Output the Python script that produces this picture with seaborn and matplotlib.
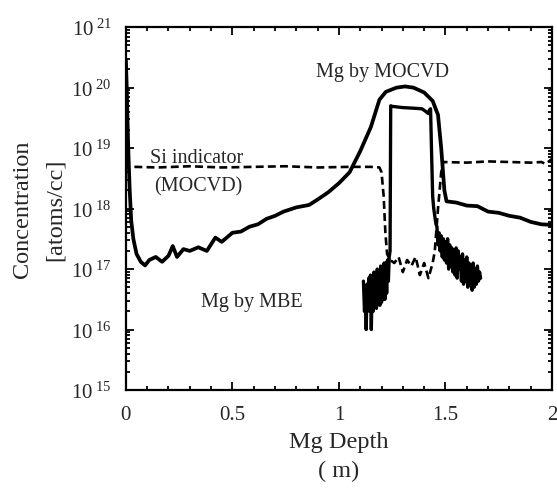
import numpy as np
import pandas as pd
import matplotlib
matplotlib.use("Agg")
import matplotlib.pyplot as plt
import matplotlib.ticker as mticker
import seaborn as sns

# Mg by MOCVD (solid, thick) - depth in um, log10 of concentration
mocvd_x = [0.000, 0.004, 0.008, 0.012, 0.018, 0.025, 0.035, 0.050, 0.070, 0.090,
           0.110, 0.140, 0.170, 0.200, 0.220, 0.240, 0.270, 0.300, 0.340, 0.380,
           0.420, 0.450, 0.500, 0.540, 0.580, 0.620, 0.660, 0.700, 0.740, 0.800,
           0.860, 0.900, 0.950, 1.000, 1.050, 1.100, 1.150, 1.190, 1.220, 1.270,
           1.310, 1.350, 1.400, 1.440, 1.465, 1.480, 1.495, 1.505, 1.550, 1.600,
           1.650, 1.700, 1.750, 1.800, 1.850, 1.900, 1.950, 2.000]
mocvd_log = [20.47, 20.00, 19.40, 18.90, 18.30, 17.80, 17.50, 17.25, 17.12, 17.06,
             17.15, 17.20, 17.12, 17.22, 17.38, 17.20, 17.33, 17.30, 17.36, 17.30,
             17.52, 17.45, 17.60, 17.62, 17.70, 17.74, 17.83, 17.88, 17.95, 18.02,
             18.06, 18.15, 18.27, 18.42, 18.60, 18.95, 19.35, 19.80, 19.93, 20.00,
             20.02, 20.00, 19.92, 19.78, 19.55, 19.00, 18.30, 18.12, 18.10, 18.05,
             18.04, 17.95, 17.93, 17.88, 17.85, 17.78, 17.74, 17.73]

# Si indicator (MOCVD) (dashed)
si_x = [0.040, 0.150, 0.300, 0.450, 0.600, 0.750, 0.900, 1.050, 1.150, 1.190,
        1.200, 1.210, 1.218, 1.226, 1.240, 1.260, 1.280, 1.300, 1.320, 1.340,
        1.360, 1.380, 1.400, 1.420, 1.440, 1.450, 1.465, 1.480, 1.490, 1.600,
        1.700, 1.800, 1.900, 1.950, 1.970, 2.000]
si_log = [18.69, 18.68, 18.70, 18.68, 18.69, 18.70, 18.68, 18.69, 18.69, 18.68,
          18.60, 18.20, 17.60, 17.25, 17.15, 17.10, 17.20, 16.95, 17.15, 17.05,
          17.20, 16.90, 17.10, 16.85, 17.10, 17.30, 18.00, 18.60, 18.77, 18.76,
          18.78, 18.77, 18.76, 18.77, 18.74, 18.82]

# Mg by MBE (solid)
mbe_x = [1.115, 1.120, 1.124, 1.128, 1.132, 1.136, 1.140, 1.144, 1.148, 1.152,
         1.156, 1.160, 1.164, 1.168, 1.172, 1.176, 1.180, 1.184, 1.188, 1.192,
         1.196, 1.200, 1.204, 1.208, 1.212, 1.216, 1.220, 1.224, 1.228, 1.232,
         1.236, 1.240, 1.243, 1.250, 1.300, 1.350, 1.390, 1.410, 1.420, 1.425,
         1.430, 1.435, 1.440, 1.445, 1.455,
         1.460, 1.465, 1.470, 1.475, 1.480, 1.485, 1.490, 1.495, 1.500, 1.505,
         1.510, 1.515, 1.520, 1.525, 1.530, 1.535, 1.540, 1.545, 1.550, 1.555,
         1.560, 1.565, 1.570, 1.575, 1.580, 1.585, 1.590, 1.595, 1.600, 1.605,
         1.610, 1.615, 1.620, 1.625, 1.630, 1.635, 1.640, 1.645, 1.650, 1.655,
         1.660, 1.665]
mbe_log = [16.80, 16.30, 16.70, 16.00, 16.75, 16.40, 16.85, 16.30, 16.90, 16.00,
           16.80, 16.30, 16.95, 16.40, 16.90, 16.35, 17.00, 16.50, 16.95, 16.40,
           17.05, 16.45, 17.00, 16.50, 17.10, 16.50, 17.10, 16.60, 17.15, 16.80,
           17.20, 17.30, 19.70, 19.69, 19.67, 19.66, 19.65, 19.60, 19.57, 19.63,
           19.65, 18.90, 18.20, 18.00, 17.75,
           17.70, 17.40, 17.60, 17.30, 17.55, 17.20, 17.50, 17.15, 17.45, 17.10,
           17.50, 17.00, 17.40, 17.05, 17.35, 16.95, 17.30, 16.90, 17.35, 16.85,
           17.30, 17.00, 17.20, 16.80, 17.25, 16.75, 17.15, 16.80, 17.20, 16.70,
           17.10, 16.75, 17.05, 16.65, 17.10, 16.70, 17.00, 16.75, 17.05, 16.80,
           16.95, 16.85]

x_ticks = [0, 0.5, 1, 1.5, 2]

sns.set_style("ticks")
plt.rcParams["font.family"] = ["Liberation Serif", "DejaVu Serif"]
plt.rcParams["mathtext.fontset"] = "custom"
plt.rcParams["mathtext.rm"] = "Liberation Serif"
plt.rcParams["mathtext.it"] = "Liberation Serif:italic"

fig = plt.figure(figsize=(5.57, 4.89), dpi=100)
ax = fig.add_axes([0.226, 0.2004, 0.765, 0.742])

mocvd = pd.DataFrame({"depth": mocvd_x, "conc": 10.0 ** np.array(mocvd_log)})
si = pd.DataFrame({"depth": si_x, "conc": 10.0 ** np.array(si_log)})
mbe = pd.DataFrame({"depth": mbe_x, "conc": 10.0 ** np.array(mbe_log)})

sns.lineplot(data=mocvd, x="depth", y="conc", sort=False, estimator=None,
             color="black", linewidth=2.7, ax=ax)
sns.lineplot(data=si, x="depth", y="conc", sort=False, estimator=None,
             color="black", linewidth=1.9, linestyle=(0, (3, 1.6)), ax=ax)
sns.lineplot(data=mbe, x="depth", y="conc", sort=False, estimator=None,
             color="black", linewidth=2.4, ax=ax)

ax.set_yscale("log")
ax.set_xlim(0, 2)
ax.set_ylim(1e15, 1e21)

ax.xaxis.set_major_locator(mticker.FixedLocator(x_ticks))
ax.xaxis.set_minor_locator(mticker.MultipleLocator(0.1))
ax.xaxis.set_major_formatter(mticker.FuncFormatter(lambda v, p: "%g" % v))
ax.yaxis.set_major_locator(mticker.LogLocator(base=10, numticks=10))
ax.yaxis.set_minor_locator(mticker.LogLocator(base=10, subs=np.arange(2, 10), numticks=20))
ax.yaxis.set_minor_formatter(mticker.NullFormatter())
ax.yaxis.set_major_formatter(mticker.FuncFormatter(
    lambda v, p: r"$\mathrm{10}^{\ %d}$" % round(np.log10(v))))

for s in ax.spines.values():
    s.set_linewidth(1.6)
    s.set_color("black")
ax.tick_params(which="both", direction="in", top=True, right=True,
               color="black", width=1.3)
ax.tick_params(which="major", length=6)
ax.tick_params(which="minor", length=3)
ax.tick_params(axis="x", which="major", labelsize=15, pad=11)
ax.tick_params(axis="y", which="major", labelsize=15, pad=10)

ax.set_xlabel("Mg Depth\n( m)", fontsize=17.5, linespacing=1.45, labelpad=5)
ax.set_ylabel("Concentration\n[atoms/cc]", fontsize=17.5, linespacing=1.75, labelpad=4)

ax.text(0.603, 0.879, "Mg by MOCVD", transform=ax.transAxes, fontsize=14.5,
        ha="center", va="center")
ax.text(0.167, 0.642, "Si indicator", transform=ax.transAxes, fontsize=14.5,
        ha="center", va="center")
ax.text(0.171, 0.562, "(MOCVD)", transform=ax.transAxes, fontsize=14.5,
        ha="center", va="center")
ax.text(0.296, 0.245, "Mg by MBE", transform=ax.transAxes, fontsize=14.5,
        ha="center", va="center")

fig.savefig("out.png", dpi=100)
